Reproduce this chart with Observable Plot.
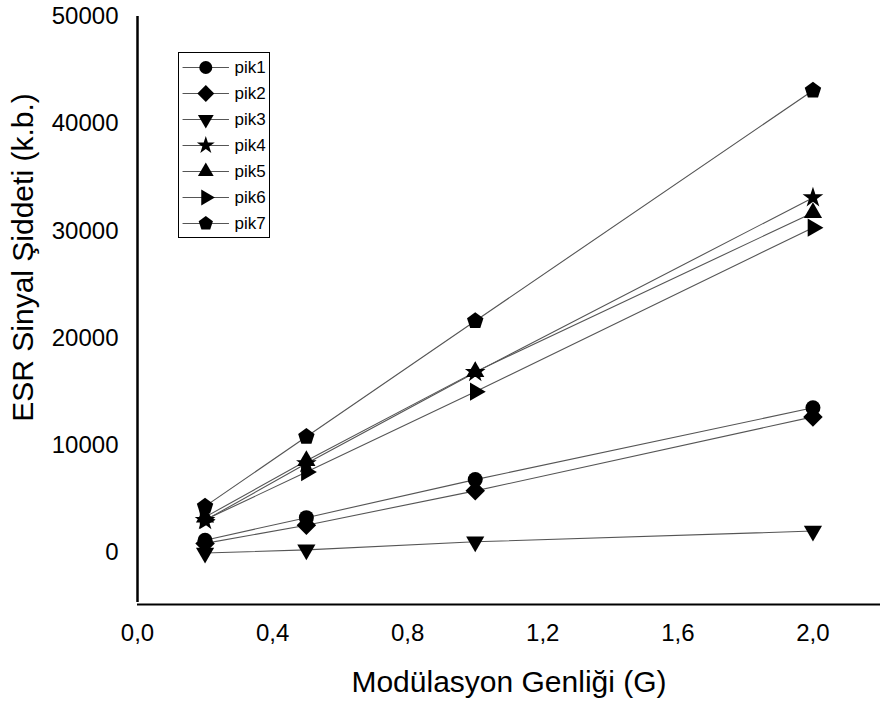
<!DOCTYPE html>
<html>
<head>
<meta charset="utf-8">
<script src="https://cdn.jsdelivr.net/npm/d3@7"></script>
<script src="https://cdn.jsdelivr.net/npm/@observablehq/plot@0.6"></script>
<style>
  html, body { margin: 0; padding: 0; background: #fff; }
  #wrap { position: relative; width: 880px; height: 708px; font-family: "Liberation Sans", Arial, sans-serif; }
  #legend { position: absolute; left: 178px; top: 52px; }
</style>
</head>
<body>
<div id="wrap"><div id="chart"></div><div id="legend"></div></div>
<script>
// ---- data ----
const modulation = [0.2, 0.5, 1.0, 2.0];
const seriesNames = ["pik1", "pik2", "pik3", "pik4", "pik5", "pik6", "pik7"];
const pik1 = [1150, 3250, 6800, 13500];
const pik2 = [850, 2550, 5750, 12650];
const pik3 = [-50, 250, 1000, 2000];
const pik4 = [3000, 8300, 16800, 33100];
const pik5 = [3300, 8550, 16850, 31700];
const pik6 = [3050, 7500, 15000, 30300];
const pik7 = [4300, 10800, 21600, 43100];
const xTicks = [0, 0.4, 0.8, 1.2, 1.6, 2.0];
const yTicks = [0, 10000, 20000, 30000, 40000, 50000];
const xLabel = "Modülasyon Genliği (G)";
const yLabel = "ESR Sinyal Şiddeti (k.b.)";

const seriesValues = [pik1, pik2, pik3, pik4, pik5, pik6, pik7];
const data = [];
seriesNames.forEach((s, i) => modulation.forEach((m, j) => data.push({series: s, x: m, y: seriesValues[i][j]})));

// ---- custom symbols (size = area) ----
function polySymbol(points) {
  return {draw(ctx, size) {
    const R = Math.sqrt(size / Math.PI);
    points.forEach(([px, py], k) => k ? ctx.lineTo(px * R, py * R) : ctx.moveTo(px * R, py * R));
    ctx.closePath();
  }};
}
const tri = (a0, s) => [0, 1, 2].map(k => { const a = a0 + k * 2 * Math.PI / 3; return [s * Math.cos(a), s * Math.sin(a)]; });
const diamondSym = polySymbol([[0, -1.3], [1.3, 0], [0, 1.3], [-1.3, 0]]);
const triDown = polySymbol(tri(Math.PI / 2, 1.4));
const triUp = polySymbol(tri(-Math.PI / 2, 1.4));
const triRight = polySymbol(tri(0, 1.4));
const pentagon = polySymbol([0, 1, 2, 3, 4].map(k => { const a = -Math.PI / 2 + k * 2 * Math.PI / 5; return [1.15 * Math.cos(a), 1.15 * Math.sin(a)]; }));
const starSym = {draw(ctx, size) { d3.symbolStar.draw(ctx, size * 0.75); }};
const symbolRange = [d3.symbolCircle, diamondSym, triDown, starSym, triUp, triRight, pentagon];

const font = "'Liberation Sans', Arial, sans-serif";
const yMin = -4850, yMax = 50000;

const chart = Plot.plot({
  width: 880, height: 708,
  marginLeft: 137, marginRight: 0, marginTop: 16, marginBottom: 104,
  style: {fontFamily: font, background: "white", overflow: "visible"},
  x: {domain: [0, 2.2]},
  y: {domain: [yMin, yMax]},
  symbol: {domain: seriesNames, range: symbolRange},
  marks: [
    Plot.line(data, {x: "x", y: "y", z: "series", stroke: "#555", strokeWidth: 1.1}),
    Plot.dot(data, {x: "x", y: "y", symbol: "series", fill: "black", stroke: "none", r: 7.5}),
    Plot.axisX({ticks: xTicks, tickSize: 0, tickPadding: 19, fontSize: 24, fill: "#000", label: null,
      tickFormat: d => d.toFixed(1).replace(".", ",")}),
    Plot.axisY({ticks: yTicks, tickSize: 0, tickPadding: 19, fontSize: 24, fill: "#000", label: null,
      tickFormat: d => String(d)}),
    Plot.ruleX([0], {y1: yMin, y2: yMax, stroke: "black", strokeWidth: 2.5, insetTop: -2}),
    Plot.ruleY([yMin], {stroke: "black", strokeWidth: 2}),
    Plot.text([xLabel], {frameAnchor: "bottom", dy: 78, fontSize: 30, fill: "black", textAnchor: "middle", lineAnchor: "middle"}),
    Plot.text([yLabel], {frameAnchor: "left", dx: -114, dy: -53, rotate: -90, fontSize: 30, fill: "black", textAnchor: "middle", lineAnchor: "middle"})
  ]
});
document.getElementById("chart").appendChild(chart);

// ---- legend (inside plot area) ----
const legendRows = seriesNames.map(s => ({series: s}));
const legend = Plot.plot({
  width: 91, height: 185,
  margin: 0, marginTop: 0, marginBottom: 0,
  style: {fontFamily: font, background: "white", overflow: "visible"},
  x: {domain: [0, 1]},
  y: {type: "band", domain: seriesNames, padding: 0, inset: 0},
  symbol: {domain: seriesNames, range: symbolRange},
  marks: [
    Plot.frame({stroke: "black", strokeWidth: 1}),
    Plot.ruleY(legendRows, {y: "series", x1: 0.05, x2: 0.56, stroke: "#555", strokeWidth: 1.1}),
    Plot.dot(legendRows, {x: 0.30, y: "series", symbol: "series", fill: "black", stroke: "none", r: 6.5}),
    Plot.text(legendRows, {x: 0.615, y: "series", text: "series", textAnchor: "start", fontSize: 17, fill: "black"})
  ],
  axis: null
});
document.getElementById("legend").appendChild(legend);
</script>
</body>
</html>
